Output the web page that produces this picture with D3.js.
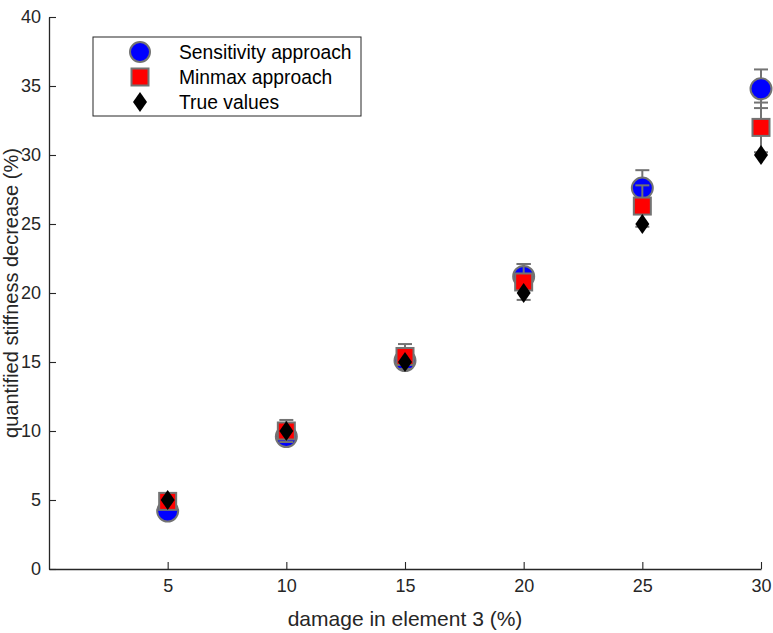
<!DOCTYPE html>
<html>
<head>
<meta charset="utf-8">
<script src="https://cdn.jsdelivr.net/npm/d3@7"></script>
<style>
  body { margin: 0; background: #fff; }
  text { font-family: "Liberation Sans", Arial, sans-serif; }
</style>
</head>
<body>
<div id="chart-area"></div>
<script>
// data
const damage = [5, 10, 15, 20, 25, 30]
const sensitivity = [4.2, 9.6, 15.1, 21.2, 27.6, 34.8]
const sensitivityErr = [0.3, 0.5, 0.6, 0.9, 1.3, 1.4]
const minmax = [4.9, 10.0, 15.4, 20.8, 26.3, 32.0]
const minmaxErr = [0.4, 0.8, 0.9, 1.3, 1.5, 1.8]
const trueValues = [5, 10, 15, 20, 25, 30]
const yTicks = [0, 5, 10, 15, 20, 25, 30, 35, 40]
const xTicks = [5, 10, 15, 20, 25, 30]

const MARGIN = { LEFT: 49, RIGHT: 12, TOP: 17, BOTTOM: 64 }
const WIDTH = 773 - MARGIN.LEFT - MARGIN.RIGHT
const HEIGHT = 633 - MARGIN.TOP - MARGIN.BOTTOM
const AXIS = "#262626"
const EDGE = "#737373"

const svg = d3.select("#chart-area").append("svg")
  .attr("width", 773)
  .attr("height", 633)

const g = svg.append("g")
  .attr("transform", `translate(${MARGIN.LEFT}, ${MARGIN.TOP})`)

// Scales
const x = d3.scaleLinear().domain([0, 30]).range([0, WIDTH])
const y = d3.scaleLinear().domain([0, 40]).range([HEIGHT, 0])

// Axes, ticks pointing inward
const xAxis = g.append("g")
  .attr("transform", `translate(0, ${HEIGHT})`)
  .call(d3.axisBottom(x).tickValues(xTicks).tickSizeInner(-7).tickSizeOuter(0).tickPadding(10))
const yAxis = g.append("g")
  .call(d3.axisLeft(y).tickValues(yTicks).tickSizeInner(-7).tickSizeOuter(0).tickPadding(8))

for (const ax of [xAxis, yAxis]) {
  ax.attr("font-family", null).attr("font-size", null)
  ax.select(".domain").attr("stroke", AXIS).attr("stroke-width", 1.3)
  ax.selectAll(".tick line").attr("stroke", AXIS).attr("stroke-width", 1.1)
  ax.selectAll(".tick text").attr("fill", AXIS).attr("font-size", "18px")
}

// Labels
g.append("text")
  .attr("x", WIDTH / 2)
  .attr("y", HEIGHT + 57)
  .attr("font-size", "21px")
  .attr("fill", AXIS)
  .attr("text-anchor", "middle")
  .text("damage in element 3 (%)")
g.append("text")
  .attr("transform", "rotate(-90)")
  .attr("x", -HEIGHT / 2)
  .attr("y", -31)
  .attr("font-size", "20px")
  .attr("fill", AXIS)
  .attr("text-anchor", "middle")
  .text("quantified stiffness decrease (%)")

const rows = damage.map((d, i) => ({
  d, s: sensitivity[i], se: sensitivityErr[i], m: minmax[i], me: minmaxErr[i], t: trueValues[i]
}))

function errorBars(key, errKey) {
  const eb = g.append("g").selectAll("g").data(rows).enter().append("g")
    .attr("stroke", EDGE).attr("stroke-width", 2)
  eb.append("line")
    .attr("x1", d => x(d.d)).attr("x2", d => x(d.d))
    .attr("y1", d => y(d[key] + d[errKey])).attr("y2", d => y(d[key] - d[errKey]))
  for (const sign of [1, -1]) {
    eb.append("line")
      .attr("x1", d => x(d.d) - 7).attr("x2", d => x(d.d) + 7)
      .attr("y1", d => y(d[key] + sign * d[errKey])).attr("y2", d => y(d[key] + sign * d[errKey]))
  }
}

// Sensitivity approach
errorBars("s", "se")
g.append("g").selectAll("circle").data(rows).enter().append("circle")
  .attr("cx", d => x(d.d)).attr("cy", d => y(d.s)).attr("r", 10.5)
  .attr("fill", "#0000ff").attr("stroke", EDGE).attr("stroke-width", 2)

// Minmax approach
errorBars("m", "me")
g.append("g").selectAll("rect").data(rows).enter().append("rect")
  .attr("x", d => x(d.d) - 8.5).attr("y", d => y(d.m) - 8.5)
  .attr("width", 17).attr("height", 17)
  .attr("fill", "#ff0000").attr("stroke", EDGE).attr("stroke-width", 2)

// True values
const diamond = (cx, cy) => `M${cx},${cy - 10}L${cx + 7},${cy}L${cx},${cy + 10}L${cx - 7},${cy}Z`
g.append("g").selectAll("path").data(rows).enter().append("path")
  .attr("d", d => diamond(x(d.d), y(d.t)))
  .attr("fill", "#000")

// Legend
const legend = svg.append("g").attr("transform", "translate(93, 37)")
legend.append("rect")
  .attr("width", 268).attr("height", 79)
  .attr("fill", "#fff").attr("stroke", AXIS).attr("stroke-width", 1)
const legendItems = ["Sensitivity approach", "Minmax approach", "True values"]
legendItems.forEach((name, i) => {
  const cy = 15 + i * 25
  if (i === 0) {
    legend.append("circle").attr("cx", 47).attr("cy", cy).attr("r", 10)
      .attr("fill", "#0000ff").attr("stroke", EDGE).attr("stroke-width", 2)
  } else if (i === 1) {
    legend.append("rect").attr("x", 38.5).attr("y", cy - 8.5).attr("width", 17).attr("height", 17)
      .attr("fill", "#ff0000").attr("stroke", EDGE).attr("stroke-width", 2)
  } else {
    legend.append("path").attr("d", diamond(47, cy)).attr("fill", "#000")
  }
  legend.append("text")
    .attr("x", 86).attr("y", cy)
    .attr("dy", "0.36em")
    .attr("font-size", "19.3px")
    .attr("fill", "#000")
    .text(name)
})
</script>
</body>
</html>
